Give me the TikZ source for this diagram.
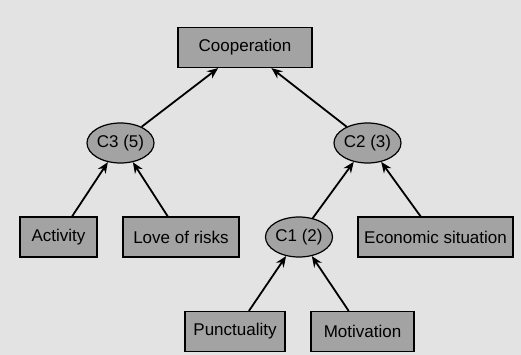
\documentclass[tikz,border=0pt]{standalone}
\usepackage{fontspec}
\setmainfont{Liberation Sans}
\usetikzlibrary{arrows,arrows.meta,positioning,shapes.geometric}
\definecolor{paper}{gray}{0.89}
\definecolor{boxfill}{gray}{0.64}
\tikzset{boxstyle/.style = {rectangle, draw = black, line width = 1.2pt, fill = boxfill, minimum height = 40pt, inner sep = 0pt, font = \fontsize{17}{20}\selectfont},
	clusterstyle/.style = {ellipse, draw = black, line width = 1.2pt, fill = boxfill, minimum width = 67pt, minimum height = 40pt, inner sep = 0pt, font = \fontsize{17}{20}\selectfont},
	up/.style={-{Stealth[length=11pt, width=9pt]}, line width = 1.8pt}}
\begin{document}
\begin{tikzpicture}[x=1pt, y=-1pt]

 \fill [paper] (0,0) rectangle (521,355);

 \node (coop) at (245,47.5) [boxstyle, minimum width = 134pt] {Cooperation};

 \node (c3) at (120.5,143) [clusterstyle] {C3 (5)}
  edge [up] (coop);
 \node (c2) at (367.5,143) [clusterstyle] {C2 (3)}
  edge [up] (coop);

 \node (activity) at (58.5,237) [boxstyle, minimum width = 77pt] {Activity}
  edge [up] (c3);
 \node (risks) at (181,237) [boxstyle, minimum width = 116pt] {Love of risks}
  edge [up] (c3);
 \node (c1) at (299,237) [clusterstyle] {C1 (2)}
  edge [up] (c2);
 \node (economic) at (435.5,237) [boxstyle, minimum width = 155pt] {Economic situation}
  edge [up] (c2);

 \node (punctuality) at (235,331.5) [boxstyle, minimum width = 100pt] {Punctuality}
  edge [up] (c1);
 \node (motivation) at (362.5,331.5) [boxstyle, minimum width = 103pt] {Motivation}
  edge [up] (c1);

\end{tikzpicture}
\end{document}
